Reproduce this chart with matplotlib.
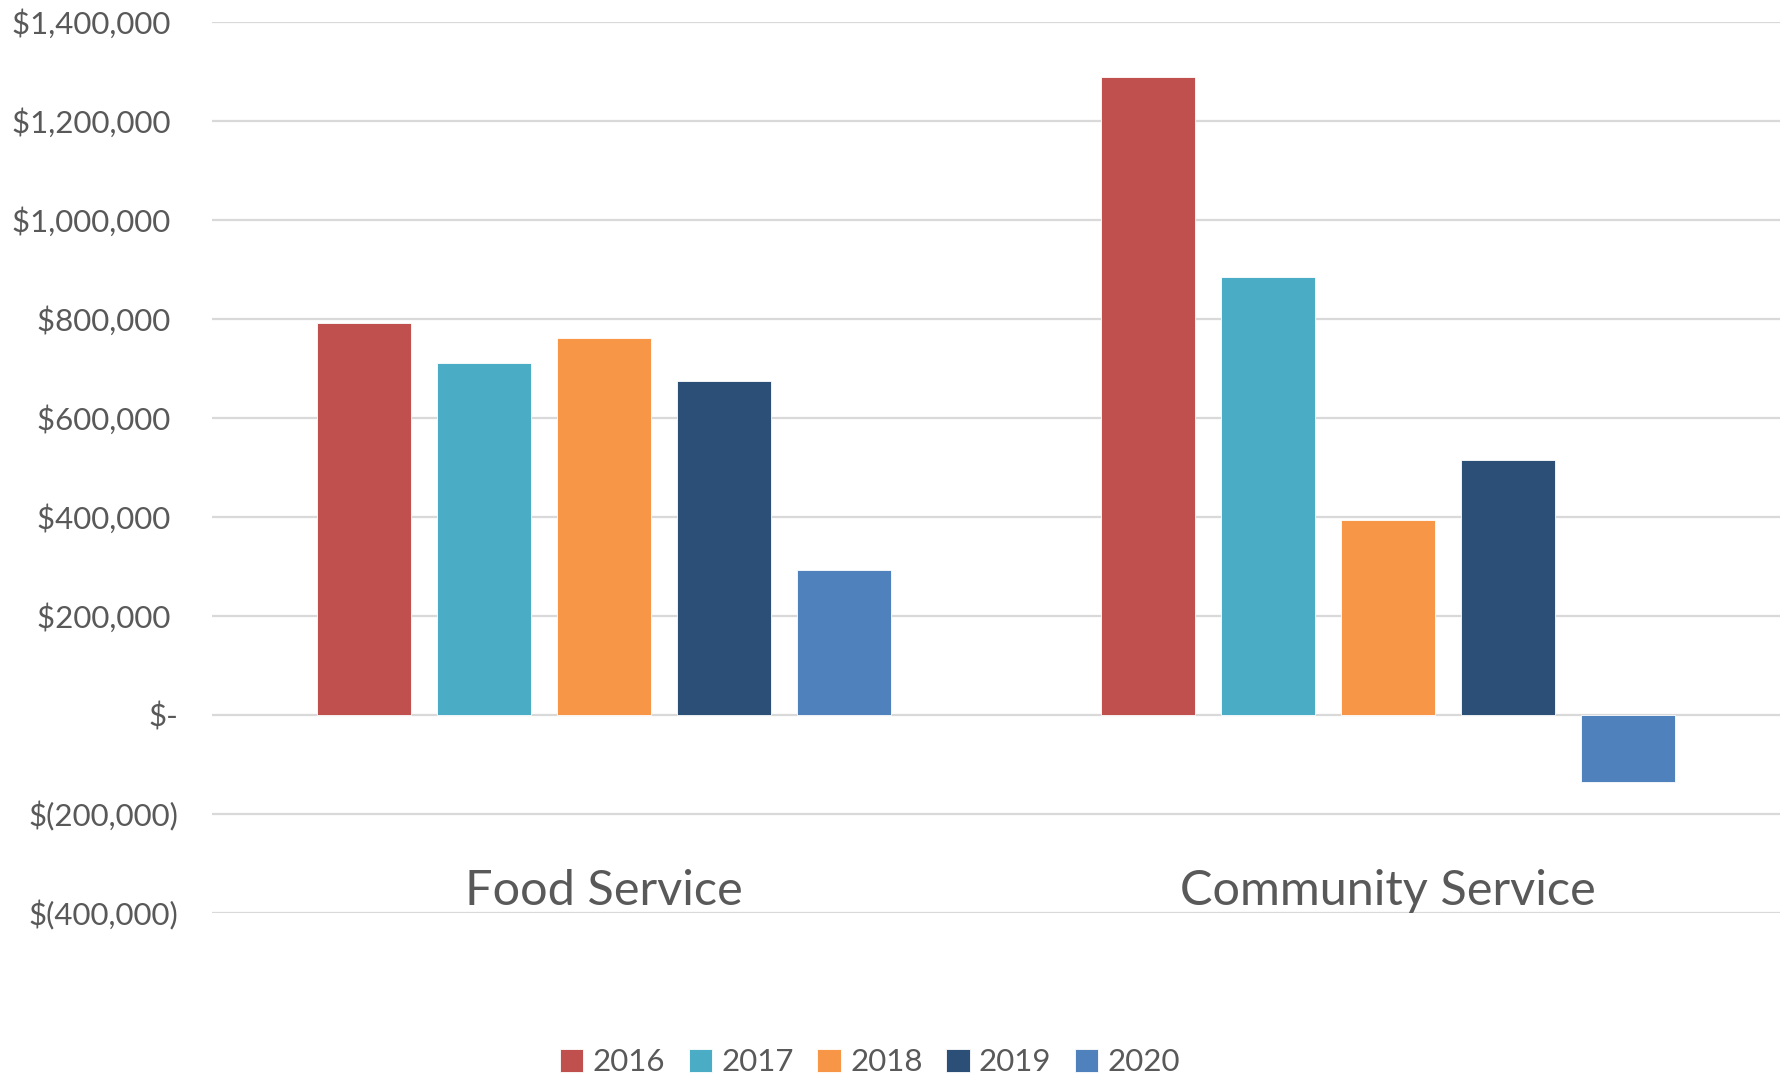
import matplotlib.pyplot as plt
import matplotlib.ticker as mticker
import numpy as np

# data
categories = ['Food Service', 'Community Service']
years = ['2016', '2017', '2018', '2019', '2020']
food_service = [791000, 711000, 762000, 675000, 292000]
community_service = [1288000, 884000, 394000, 514000, -135000]
colors = ['#C0504D', '#4BACC6', '#F79646', '#2C4F77', '#4F81BD']

text_col = '#595959'
grid_col = '#D9D9D9'
plt.rcParams['font.family'] = ['Lato', 'DejaVu Sans']

fig = plt.figure(figsize=(17.8, 10.77), dpi=100)
ax = fig.add_axes([212 / 1780, 1 - 913 / 1077, 1 - 212 / 1780, (913 - 21.7) / 1077])

x = np.arange(len(categories))
pitch = 0.1528
width = 0.12
for i, yr in enumerate(years):
    vals = [food_service[i], community_service[i]]
    ax.bar(x + (i - 2) * pitch, vals, width, color=colors[i], label=yr,
           edgecolor='white', linewidth=0.6, zorder=3)

ax.set_xlim(-0.5, 1.5)
ax.set_ylim(-400000, 1400000)
ax.yaxis.set_major_locator(mticker.MultipleLocator(200000))


# accounting style: negatives in brackets, zero as a dash
def money(v, pos):
    if v == 0:
        return '$-'
    if v < 0:
        return '$({:,.0f})'.format(-v)
    return '${:,.0f} '.format(v)


ax.yaxis.set_major_formatter(mticker.FuncFormatter(money))
ax.grid(axis='y', color=grid_col, linewidth=1.6, zorder=0)
ax.set_axisbelow(True)
for s in ax.spines.values():
    s.set_visible(False)
ax.tick_params(axis='y', length=0, pad=24, labelsize=22.5, labelcolor=text_col)
ax.set_xticks([])

for xi, cat in zip(x, categories):
    ax.text(xi, -356000, cat, ha='center', va='center', fontsize=35, color=text_col)

leg = fig.legend(loc='center', bbox_to_anchor=(870 / 1780, 1 - 1062 / 1077), ncol=5,
                 frameon=False, fontsize=22.5, handlelength=0.75, handleheight=0.75,
                 handletextpad=0.3, columnspacing=0.75)
for t in leg.get_texts():
    t.set_color(text_col)

fig.savefig('out.png', dpi=100)
